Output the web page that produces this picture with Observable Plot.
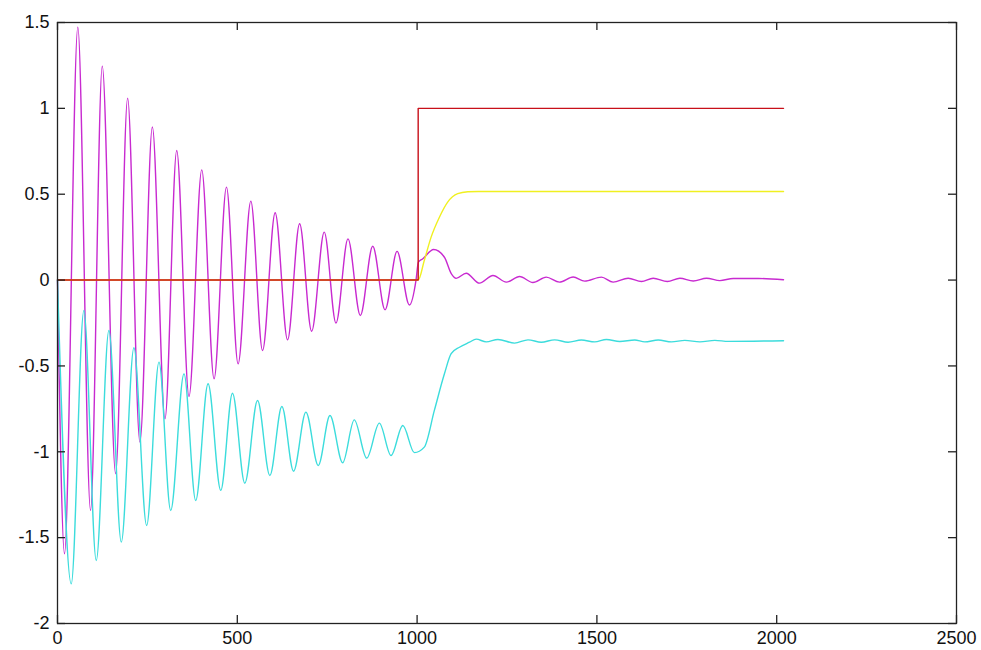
<!DOCTYPE html>
<html>
<head>
<meta charset="utf-8">
<script src="https://cdn.jsdelivr.net/npm/d3@7"></script>
<script src="https://cdn.jsdelivr.net/npm/@observablehq/plot@0.6"></script>
<style>
  html, body { margin: 0; padding: 0; background: #fff; }
  #chart { width: 981px; height: 650px; }
</style>
</head>
<body>
<div id="chart"></div>
<script>
// Tick values
const xTicks = [0, 500, 1000, 1500, 2000, 2500];
const yTicks = [-2, -1.5, -1, -0.5, 0, 0.5, 1, 1.5];

// Red series (step input)
const redT = [0, 1003, 1003, 2019];
const redV = [0, 0, 1, 1];

// Yellow series (filtered response)
const yellowT = [0, 1003, 1020, 1039, 1062, 1085, 1113, 1141, 1170, 2019];
const yellowV = [0, 0, 0.114, 0.25, 0.366, 0.454, 0.503, 0.514, 0.516, 0.516];

// Magenta series (oscillation, read at extremes)
const magentaT = [0, 19.5, 56.5, 91.9, 124.5, 161.6, 195, 229.2, 263.8, 298.9, 331.5, 365.7, 401.1, 435.4,
  469.9, 502.2, 537.6, 570.2, 605.3, 639.8, 673.3, 706.7, 741.8, 774.4, 807.8, 842.1, 876.6, 910.9,
  944.3, 978.6, 997, 1003.6, 1016, 1046, 1076, 1095, 1108.6, 1136.5, 1173.5, 1211, 1248, 1285,
  1322, 1359, 1396, 1434, 1466, 1512.5, 1545, 1587, 1624, 1656.5, 1696, 1730.6, 1768, 1805, 1842,
  1879, 1949, 2019];
const magentaV = [0, -1.594, 1.473, -1.342, 1.246, -1.128, 1.059, -0.944, 0.891, -0.808, 0.755, -0.678, 0.642, -0.575,
  0.541, -0.488, 0.46, -0.41, 0.392, -0.348, 0.328, -0.298, 0.279, -0.251, 0.24, -0.206, 0.197, -0.173,
  0.167, -0.145, 0, 0.104, 0.124, 0.178, 0.133, 0.037, 0.01, 0.04, -0.018, 0.027, -0.012, 0.021,
  -0.014, 0.017, -0.012, 0.018, -0.006, 0.017, -0.012, 0.011, -0.008, 0.011, -0.008, 0.011, -0.005, 0.011, -0.003,
  0.009, 0.009, 0.002];

// Cyan series (oscillation, read at extremes)
const cyanT = [0, 38.2, 73.3, 107.8, 142.9, 177.4, 212.5, 247.9, 282.2, 314.8, 351.8, 384.4, 418.7, 454,
  486.6, 520.9, 556.3, 590.5, 624, 656.5, 690.8, 725.1, 757.7, 793, 825.3, 859.9, 895, 927.6, 960.2,
  992.5, 1020, 1048, 1076, 1094.7, 1117.8, 1145.7, 1164.3, 1192.2, 1224.8, 1271, 1308.4, 1345.4, 1382.5,
  1419.8, 1456.8, 1494, 1526.5, 1563.6, 1605.3, 1633.1, 1670.5, 1707.5, 1744.6, 1786.4, 1828.1, 1865.5, 2019];
const cyanV = [0, -1.769, -0.177, -1.633, -0.294, -1.526, -0.394, -1.429, -0.478, -1.342, -0.546, -1.284, -0.604, -1.225,
  -0.659, -1.183, -0.701, -1.138, -0.736, -1.113, -0.769, -1.08, -0.789, -1.064, -0.814, -1.037, -0.833, -1.022, -0.847,
  -1.005, -0.973, -0.759, -0.546, -0.429, -0.391, -0.362, -0.344, -0.36, -0.346, -0.367, -0.348, -0.362, -0.348,
  -0.362, -0.349, -0.36, -0.346, -0.358, -0.349, -0.36, -0.349, -0.36, -0.351, -0.36, -0.351, -0.357, -0.353];

const toRows = (t, v) => t.map((x, i) => ({x, y: v[i]}));

const innerW = 981 - 57 - 25;
const innerH = 650 - 22 - 27;
const tick = 8;

const chart = Plot.plot({
  width: 981,
  height: 650,
  marginLeft: 57,
  marginRight: 25,
  marginTop: 22,
  marginBottom: 27,
  x: {domain: [0, 2500], label: null},
  y: {domain: [-2, 1.5], label: null},
  style: {fontFamily: "'Liberation Sans', Arial, sans-serif", fontSize: "18px", background: "#fff", color: "#111"},
  marks: [
    Plot.line(toRows(magentaT, magentaV), {x: "x", y: "y", stroke: "#c82ad0", strokeWidth: 1.4, curve: "monotone-x"}),
    Plot.line(toRows(cyanT, cyanV), {x: "x", y: "y", stroke: "#3cdcdc", strokeWidth: 1.4, curve: "monotone-x"}),
    Plot.line(toRows(yellowT, yellowV), {x: "x", y: "y", stroke: "#f0f020", strokeWidth: 1.4, curve: "monotone-x"}),
    Plot.line(toRows(redT, redV), {x: "x", y: "y", stroke: "#c8101a", strokeWidth: 1.4}),
    Plot.frame({stroke: "#222", strokeWidth: 1.3}),
    Plot.tickX(xTicks, {x: d => d, insetTop: innerH - tick, stroke: "#222", strokeWidth: 1.3}),
    Plot.tickX(xTicks, {x: d => d, insetBottom: innerH - tick, stroke: "#222", strokeWidth: 1.3}),
    Plot.tickY(yTicks, {y: d => d, insetRight: innerW - tick, stroke: "#222", strokeWidth: 1.3}),
    Plot.tickY(yTicks, {y: d => d, insetLeft: innerW - tick, stroke: "#222", strokeWidth: 1.3}),
    Plot.axisX(xTicks, {tickSize: 0, tickPadding: 8, label: null, tickFormat: d => String(d)}),
    Plot.axisY(yTicks, {tickSize: 0, tickPadding: 8, label: null, tickFormat: d => String(d)})
  ]
});
document.getElementById("chart").appendChild(chart);
</script>
</body>
</html>
